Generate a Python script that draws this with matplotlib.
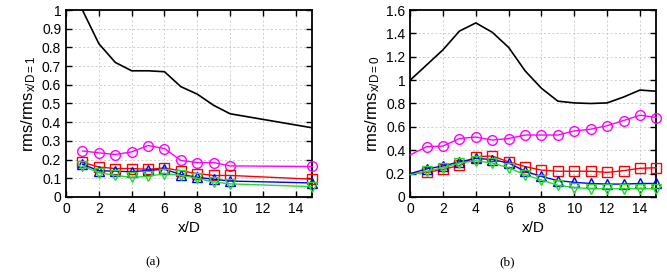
import numpy as np
import matplotlib
matplotlib.use("Agg")
import matplotlib.pyplot as plt
from matplotlib.ticker import FuncFormatter

plt.rcParams["font.family"] = ["Liberation Sans", "DejaVu Sans"]
plt.rcParams["mathtext.fontset"] = "custom"
plt.rcParams["mathtext.rm"] = "Liberation Sans"
plt.rcParams["mathtext.it"] = "Liberation Sans"

# ---- panel (a) ----
xa = [1, 2, 3, 4, 5, 6, 7, 8, 9, 10, 15]
a_black = [1.0, 0.82, 0.72, 0.675, 0.675, 0.67, 0.59, 0.55, 0.49, 0.445, 0.37]
a_mag = [0.246, 0.236, 0.227, 0.241, 0.275, 0.259, 0.195, 0.184, 0.184, 0.166, 0.163]
a_red = [0.185, 0.16, 0.152, 0.152, 0.148, 0.155, 0.14, 0.125, 0.115, 0.115, 0.095]
a_blue = [0.175, 0.14, 0.138, 0.135, 0.142, 0.148, 0.12, 0.105, 0.095, 0.085, 0.075]
a_green = [0.165, 0.13, 0.115, 0.105, 0.11, 0.125, 0.115, 0.1, 0.08, 0.07, 0.055]

# ---- panel (b) ----
xb = list(range(0, 16))
b_black = [1.0, 1.13, 1.26, 1.42, 1.49, 1.41, 1.28, 1.08, 0.93, 0.82, 0.805, 0.80, 0.805, 0.855, 0.915, 0.905]
b_mag = [0.36, 0.43, 0.436, 0.50, 0.513, 0.487, 0.50, 0.53, 0.53, 0.53, 0.565, 0.58, 0.61, 0.654, 0.70, 0.68]
b_red = [0.20, 0.21, 0.235, 0.27, 0.345, 0.35, 0.30, 0.26, 0.23, 0.22, 0.22, 0.22, 0.21, 0.225, 0.245, 0.25]
b_blue = [0.20, 0.24, 0.265, 0.30, 0.33, 0.32, 0.29, 0.22, 0.175, 0.14, 0.125, 0.115, 0.11, 0.11, 0.115, 0.115]
b_green = [0.19, 0.22, 0.25, 0.29, 0.31, 0.29, 0.25, 0.19, 0.145, 0.10, 0.08, 0.07, 0.07, 0.07, 0.07, 0.07]

fig = plt.figure(figsize=(6.67, 2.72), dpi=100)
ax1 = fig.add_axes([0.099, 0.276, 0.369, 0.687])
ax2 = fig.add_axes([0.615, 0.276, 0.369, 0.687])

ms = 7
mew = 1.0


def series(ax, x, blk, mag, red, blue, green, me):
    ax.plot(x, blk, color="black", lw=1.2, zorder=3)
    kw = dict(ms=ms, mfc="none", mew=mew, markevery=me, lw=1.0, clip_on=False)
    ax.plot(x, mag, color="#ff00ff", marker="o", zorder=3, **kw)
    ax.plot(x, red, color="#ff0000", marker="s", zorder=4, **kw)
    ax.plot(x, blue, color="#0000ff", marker="^", zorder=5, **kw)
    ax.plot(x, green, color="#22dd22", marker="v", zorder=6, **kw)


series(ax1, xa, a_black, a_mag, a_red, a_blue, a_green, None)
series(ax2, xb, b_black, b_mag, b_red, b_blue, b_green, slice(1, None))

fmt = FuncFormatter(lambda v, p: ("%g" % round(v, 2)))
for ax in (ax1, ax2):
    ax.set_xlim(0, 15)
    ax.set_xticks(range(0, 15, 2))
    ax.grid(True, color="#c8c8c8", linestyle=(0, (2.5, 2.5)), lw=0.6)
    ax.tick_params(direction="in", top=True, right=True, labelsize=10, length=4, width=1)
    for s in ax.spines.values():
        s.set_linewidth(1.3)
    ax.yaxis.set_major_formatter(fmt)
    ax.set_xlabel("x/D", fontsize=11, labelpad=4)

ax1.set_ylim(0, 1)
ax1.set_yticks(np.arange(0, 1.01, 0.1))
ax1.set_ylabel(r"rms/rms$_{\mathrm{x/D=1}}$", fontsize=12, labelpad=3)

ax2.set_ylim(0, 1.6)
ax2.set_yticks(np.arange(0, 1.61, 0.2))
ax2.set_ylabel(r"rms/rms$_{\mathrm{x/D=0}}$", fontsize=12, labelpad=3)

fig.text(0.229, 0.026, "(a)", family=["Liberation Serif"], fontsize=9.5, ha="center")
fig.text(0.760, 0.026, "(b)", family=["Liberation Serif"], fontsize=9.5, ha="center")

plt.savefig("out.png", dpi=100)
plt.close()
